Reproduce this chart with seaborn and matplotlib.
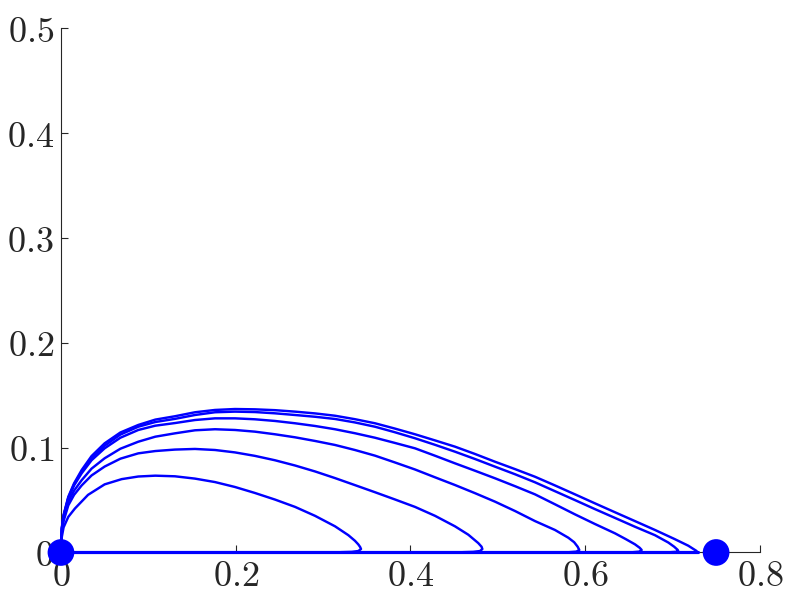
"""
Phase portrait: orbits leaving the x-axis and returning to the origin.
"""

import matplotlib
matplotlib.use('Agg')
import matplotlib.pyplot as plt
import pandas as pd
import seaborn as sns

# Orbits, from the origin out to the nose on the x-axis
orbit1_x = [0, 0.001, 0.003, 0.0084, 0.015, 0.0237, 0.035, 0.050, 0.068, 0.0885, 0.108, 0.1305,
            0.1534, 0.1763, 0.1992, 0.222, 0.245, 0.268, 0.291, 0.3137, 0.3365, 0.3595, 0.382,
            0.4053, 0.428, 0.451, 0.474, 0.4969, 0.52, 0.5426, 0.5655, 0.5884, 0.611, 0.6342,
            0.657, 0.68, 0.7023, 0.7181, 0.7277, 0.728]
orbit1_y = [0, 0.024, 0.036, 0.0532, 0.066, 0.0787, 0.092, 0.1042, 0.1145, 0.1217, 0.1268, 0.130,
            0.1338, 0.136, 0.1369, 0.1366, 0.1358, 0.1344, 0.1327, 0.1305, 0.1272, 0.1233, 0.1183,
            0.1128, 0.107, 0.101, 0.094, 0.0866, 0.0795, 0.0723, 0.064, 0.0555, 0.047, 0.0384,
            0.030, 0.0215, 0.0129, 0.0065, 0.0014, 0.0003]

orbit2_x = [0, 0.001, 0.003, 0.0084, 0.015, 0.0237, 0.035, 0.050, 0.068, 0.0885, 0.108, 0.1305,
            0.1534, 0.1763, 0.1992, 0.222, 0.245, 0.268, 0.291, 0.3137, 0.3365, 0.3595, 0.382,
            0.4053, 0.428, 0.451, 0.474, 0.4969, 0.52, 0.5426, 0.5655, 0.5884, 0.611, 0.6342,
            0.657, 0.68, 0.6953, 0.702, 0.706, 0.7067, 0.704, 0.698]
orbit2_y = [0, 0.023, 0.035, 0.0523, 0.065, 0.0771, 0.090, 0.1019, 0.1125, 0.120, 0.1245, 0.1275,
            0.1312, 0.1338, 0.1344, 0.1340, 0.1328, 0.1312, 0.1295, 0.1274, 0.1241, 0.120, 0.1148,
            0.109, 0.1028, 0.0962, 0.0892, 0.0819, 0.0746, 0.067, 0.0585, 0.050, 0.0415, 0.033,
            0.0246, 0.0165, 0.0095, 0.0055, 0.0025, 0.0012, 0.0006, 0.0003]

orbit3_x = [0, 0.001, 0.003, 0.0084, 0.015, 0.0237, 0.035, 0.050, 0.068, 0.0885, 0.108, 0.1305,
            0.1534, 0.1763, 0.1992, 0.222, 0.245, 0.268, 0.291, 0.3137, 0.3365, 0.3595, 0.382,
            0.4053, 0.428, 0.451, 0.474, 0.4969, 0.52, 0.5426, 0.5655, 0.5884, 0.611, 0.6342,
            0.6465, 0.6571, 0.6625, 0.6648, 0.662, 0.655]
orbit3_y = [0, 0.023, 0.0345, 0.0517, 0.064, 0.0756, 0.088, 0.0994, 0.1095, 0.1169, 0.121, 0.1235,
            0.1264, 0.128, 0.128, 0.1271, 0.1255, 0.1233, 0.1207, 0.1176, 0.1138, 0.1095, 0.1046,
            0.0994, 0.0924, 0.0851, 0.078, 0.0708, 0.0632, 0.0555, 0.046, 0.0364, 0.0273, 0.0183,
            0.0128, 0.0078, 0.0045, 0.0024, 0.0008, 0.0003]

orbit4_x = [0, 0.001, 0.003, 0.0084, 0.015, 0.0237, 0.035, 0.050, 0.068, 0.0885, 0.108, 0.1305,
            0.1534, 0.1763, 0.1992, 0.222, 0.245, 0.268, 0.291, 0.3137, 0.3365, 0.3595, 0.382,
            0.4053, 0.428, 0.451, 0.474, 0.4969, 0.52, 0.5426, 0.5655, 0.5808, 0.5875, 0.5915,
            0.5934, 0.590, 0.582]
orbit4_y = [0, 0.022, 0.033, 0.0485, 0.059, 0.069, 0.080, 0.0899, 0.099, 0.1057, 0.1105, 0.1137,
            0.1166, 0.1176, 0.1169, 0.1153, 0.1128, 0.1099, 0.1064, 0.1026, 0.0978, 0.0924, 0.086,
            0.0792, 0.0718, 0.0644, 0.0566, 0.0485, 0.0395, 0.030, 0.0215, 0.0141, 0.0098, 0.0055,
            0.0024, 0.0008, 0.0003]

orbit5_x = [0, 0.001, 0.003, 0.0084, 0.015, 0.0237, 0.035, 0.050, 0.068, 0.0885, 0.108, 0.1305,
            0.1534, 0.1763, 0.1992, 0.222, 0.245, 0.268, 0.291, 0.3137, 0.3365, 0.3595, 0.382,
            0.4053, 0.4282, 0.451, 0.4663, 0.4777, 0.4815, 0.4824, 0.4797, 0.472, 0.46]
orbit5_y = [0, 0.020, 0.030, 0.045, 0.055, 0.064, 0.0735, 0.082, 0.0895, 0.0946, 0.0968, 0.0982,
            0.0988, 0.0978, 0.0955, 0.0922, 0.0880, 0.0830, 0.0773, 0.0710, 0.0643, 0.0575, 0.0507,
            0.0435, 0.0350, 0.0250, 0.0170, 0.0090, 0.0055, 0.0033, 0.0014, 0.0006, 0.0003]

orbit6_x = [0, 0.001, 0.003, 0.0084, 0.016, 0.031, 0.050, 0.0695, 0.0885, 0.108, 0.1305, 0.1534,
            0.1763, 0.1992, 0.222, 0.245, 0.268, 0.2908, 0.3137, 0.329, 0.3365, 0.3404, 0.3425,
            0.3435, 0.3404, 0.333, 0.32]
orbit6_y = [0, 0.015, 0.024, 0.034, 0.042, 0.055, 0.065, 0.070, 0.0725, 0.0733, 0.0727, 0.0705,
            0.0672, 0.0625, 0.0568, 0.0505, 0.0435, 0.0350, 0.0250, 0.0165, 0.0112, 0.0077, 0.0052,
            0.0033, 0.0014, 0.0006, 0.0003]

# invariant line along the x-axis
axis_orbit_x = [0, 0.729]
axis_orbit_y = [0, 0]

# equilibria
eq_x = [0, 0.75]
eq_y = [0, 0]

x_ticks = [0, 0.2, 0.4, 0.6, 0.8]
y_ticks = [0, 0.1, 0.2, 0.3, 0.4, 0.5]

orbits = [(orbit1_x, orbit1_y), (orbit2_x, orbit2_y), (orbit3_x, orbit3_y),
          (orbit4_x, orbit4_y), (orbit5_x, orbit5_y), (orbit6_x, orbit6_y)]
df = pd.concat(
    [pd.DataFrame({'x': xs, 'y': ys, 'orbit': i}) for i, (xs, ys) in enumerate(orbits)],
    ignore_index=True
)
df_axis = pd.DataFrame({'x': axis_orbit_x, 'y': axis_orbit_y, 'orbit': 0})

sns.set_style('ticks')
plt.rcParams['mathtext.fontset'] = 'cm'

fig = plt.figure(figsize=(7.97, 6.06), dpi=100)
ax = fig.add_axes([0.0765, 0.0883, 0.8768, 0.8647])

sns.lineplot(data=df, x='x', y='y', units='orbit', estimator=None, sort=False,
             color='blue', linewidth=1.75, ax=ax, zorder=3, clip_on=False)
sns.lineplot(data=df_axis, x='x', y='y', units='orbit', estimator=None, sort=False,
             color='blue', linewidth=2.3, ax=ax, zorder=4, clip_on=False)
sns.scatterplot(x=eq_x, y=eq_y, s=370, color='blue', edgecolor='none', linewidth=0,
                ax=ax, zorder=5, clip_on=False)

ax.set_xlim(0, 0.8)
ax.set_ylim(0, 0.5)
ax.set_xticks(x_ticks)
ax.set_yticks(y_ticks)
ax.set_xticklabels([f'${t:g}$' for t in x_ticks])
ax.set_yticklabels([f'${t:g}$' for t in y_ticks])
ax.set_xlabel('')
ax.set_ylabel('')

sns.despine(ax=ax)
for side in ['left', 'bottom']:
    ax.spines[side].set_color('#262626')
    ax.spines[side].set_linewidth(0.8)
ax.tick_params(direction='in', length=5, width=0.8, color='#262626',
               labelsize=26, labelcolor='#262626')
ax.tick_params(axis='x', pad=5)
ax.tick_params(axis='y', pad=5)

fig.savefig('out.png', dpi=100)
